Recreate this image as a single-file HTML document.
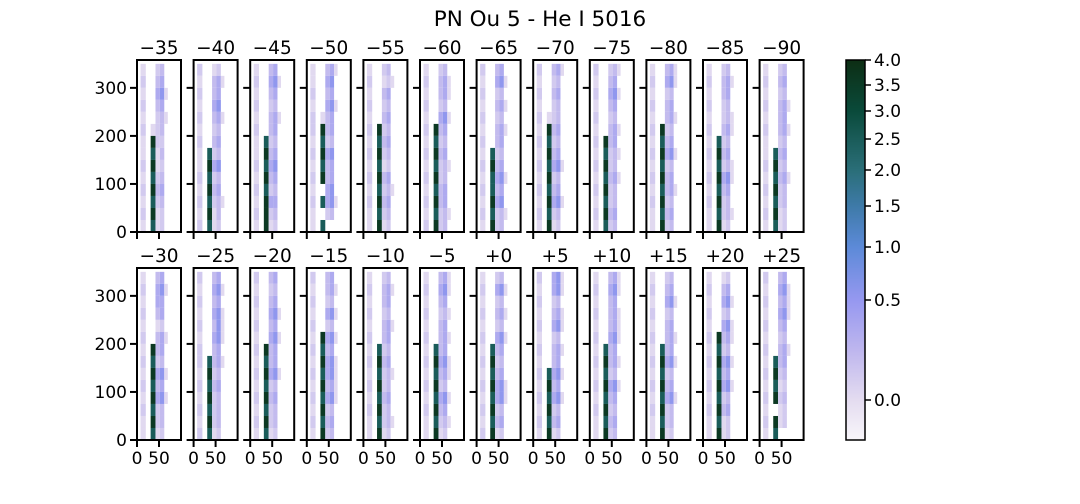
<!DOCTYPE html>
<html><head><meta charset="utf-8"><style>
html,body{margin:0;padding:0;background:#fff;}
svg{display:block;font-family:"DejaVu Sans","Liberation Sans",sans-serif;}
</style></head><body>
<svg id="chart" width="1080" height="504" viewBox="0 0 1080 504">
<text x="540" y="26" text-anchor="middle" font-size="21.5" fill="#000">PN Ou 5 - He I 5016</text>
<g id="panels"></g>
<g id="cbar"></g>
</svg>
<script>
// Panel titles (velocity offsets)
const titles = ["−35","−40","−45","−50","−55","−60","−65","−70","−75","−80","−85","−90",
                "−30","−25","−20","−15","−10","−5","+0","+5","+10","+15","+20","+25"];
// Column bins in data units (x): strip, line, c2..c5
const colEdges = [8,20,28,31,42,52,62,70];
// Intensity digits per panel: 14 rows (top->bottom), 6 columns: strip, line, c2, c3, c4, c5
const panelData = [
"100230 200340 100451 200340 100231 201230 109220 108130 209120 108230 209340 108230 209120 108120",
"200120 100341 200340 100450 200341 100230 200340 108230 109450 208230 109340 208231 109130 208120",
"100340 200451 100340 200230 100341 200340 108230 109340 208450 109340 208230 109440 209230 109120",
"100341 100450 200340 100451 201340 209340 108230 209450 108340 209340 100450 208451 100230 108000",
"100230 200121 100340 200230 100340 209230 108340 209230 108120 209340 108231 209340 108230 109120",
"100230 200341 100341 200230 100451 209340 108230 209340 108231 209230 108340 209340 108231 209230",
"200340 100451 200230 100341 200230 100341 200340 108230 209340 108451 208340 109450 208231 109230",
"200341 100230 200340 100230 201230 109340 208230 109340 208451 109230 208340 109451 208230 109120",
"200231 100340 200451 100340 200230 100341 209340 108231 209230 108341 209230 108230 209340 108230",
"100341 200451 100230 200340 100341 209230 108340 209451 108230 209340 108341 209230 108340 109230",
"100230 200341 100340 200230 100231 200341 108230 209340 108231 209451 108340 209230 108231 109120",
"100230 200340 100230 200341 100340 200341 100230 108340 209230 108341 209230 108230 209120 108120",
"100340 200451 100440 200340 100120 200341 109340 208230 109451 208340 109451 208230 109230 108120",
"200340 100451 200340 100451 200351 100451 200340 208341 109230 208340 109230 208230 109230 208120",
"200340 100230 200340 100451 200340 100451 209340 108340 209451 108230 209340 108230 209230 108120",
"200340 100341 200230 100451 200230 109451 208340 109451 208451 109341 208451 109230 208340 109230",
"100230 200341 100340 200230 100341 200340 108230 209340 108231 209230 108340 209230 108231 109120",
"100341 200451 100340 200231 100340 200341 108340 209451 108341 209230 108451 209340 108231 109120",
"100230 200451 100230 200341 100230 200451 108340 209230 108340 209451 108451 209230 108340 209120",
"200451 100451 200230 100341 200451 100230 200341 100340 208451 109340 208451 109230 208340 109120",
"100341 200451 100340 200341 100341 200451 108340 209341 108230 209451 108340 209230 108340 109230",
"100230 200340 100451 200230 100340 200341 108340 209451 108230 209340 108451 209230 108230 109120",
"100120 200340 100451 200230 100451 209341 108230 209451 108340 209451 108230 209340 108120 109120",
"200340 100451 200341 100451 200340 100230 200341 108340 209230 108120 209230 100120 209120 108000"
];
// Digit -> data value
const levelValues = [0,0.02,0.12,0.22,0.35,0.55,0.8,1.1,2.5,3.6];
// Colorbar tick labels/values
const cbTickValues = [4.0,3.5,3.0,2.5,2.0,1.5,1.0,0.5,0.0];
const cbTickLabels = ["4.0","3.5","3.0","2.5","2.0","1.5","1.0","0.5","0.0"];
const yTickValues = [0,100,200,300];
const xTickValues = [0,50];

const NS = "http://www.w3.org/2000/svg";
function mk(tag, attrs, parent){const e=document.createElementNS(NS,tag);for(const k in attrs)e.setAttribute(k,attrs[k]);parent.appendChild(e);return e;}

const cbV=[-0.3,0.0,0.5,1.0,1.5,2.0,2.5,3.0,3.5,4.0];
const cbY=[440,400,300,247,206,170,139,111,85,60];
function cbScale(v){for(let i=0;i<cbV.length-1;i++){if(v<=cbV[i+1])return cbY[i]+(v-cbV[i])/(cbV[i+1]-cbV[i])*(cbY[i+1]-cbY[i]);}return 60;}
const cV=[-0.3,0,0.25,0.5,1.0,1.5,2.0,3.0,4.0];
const cC=[[248,246,250],[228,220,240],[190,182,238],[150,152,240],[92,138,216],[62,122,168],[42,110,120],[10,74,58],[13,46,20]];
function color(v){v=Math.max(-0.3,Math.min(4,v));for(let i=0;i<cV.length-1;i++){if(v<=cV[i+1]){const t=(v-cV[i])/(cV[i+1]-cV[i]);const c=cC[i].map((a,k)=>Math.round(a+t*(cC[i+1][k]-a)));return `rgb(${c})`;}}return "rgb(13,46,20)";}

const panels=document.getElementById('panels');
const pw=44, ph=172, xMax=100, yMax=358;
titles.forEach((t,i)=>{
  const r=Math.floor(i/12), c=i%12;
  const left=137+c*56.6, top=r===0?60:268;
  const xs=u=>left+u/xMax*pw, ys=u=>top+ph-u/yMax*ph;
  const g=mk('g',{},panels);
  
  
  const rows=panelData[i].split(' ');
  rows.forEach((row,ri)=>{
    const y1=350-ri*25;
    for(let k=0;k<6;k++){
      const d=+row[k]; if(!d) continue;
      const x0=k===0?colEdges[0]:colEdges[k+1], x1=k===0?colEdges[1]:colEdges[k+2];
      const rc=mk('rect',{x:xs(x0),y:ys(y1),width:xs(x1)-xs(x0),height:ys(y1-25)-ys(y1),fill:color(levelValues[d])},g);
      
      
    }
  });
  const fr=mk('rect',{x:left,y:top,width:pw,height:ph,fill:'none',stroke:'#000','stroke-width':2},g);
  
  
  const tt=mk('text',{x:left+pw/2,y:top-6,'text-anchor':'middle','font-size':18.5},g);
  tt.textContent=t;
  
  
  yTickValues.forEach(v=>{
    mk('line',{x1:left-7,x2:left,y1:ys(v),y2:ys(v),stroke:'#000','stroke-width':2},g);
    if(c===0){const l=mk('text',{x:left-10,y:ys(v)+6,'text-anchor':'end','font-size':17},g);l.textContent=v;
      
      }
  });
  xTickValues.forEach(v=>{
    mk('line',{x1:xs(v),x2:xs(v),y1:top+ph,y2:top+ph+7,stroke:'#000','stroke-width':2},g);
    if(r===1){const l=mk('text',{x:xs(v),y:top+ph+24,'text-anchor':'middle','font-size':17},g);l.textContent=v;
      
      }
  });
});

const cb=document.getElementById('cbar');
for(let y=60;y<440;y++){
  let lo=-0.3,hi=4; for(let it=0;it<25;it++){const m=(lo+hi)/2; if(cbScale(m)>y+0.5)lo=m;else hi=m;}
  mk('rect',{x:846,y:y,width:19,height:1.2,fill:color((lo+hi)/2)},cb);
}
mk('rect',{x:846,y:60,width:19,height:380,fill:'none',stroke:'#000','stroke-width':1.5},cb);
cbTickValues.forEach((v,i)=>{
  const y=cbScale(v);
  mk('line',{x1:865,x2:871,y1:y,y2:y,stroke:'#000','stroke-width':1.5},cb);
  const l=mk('text',{x:874,y:y+6,'font-size':17},cb);
  l.textContent=cbTickLabels[i];
  
  
});
</script>
</body></html>
